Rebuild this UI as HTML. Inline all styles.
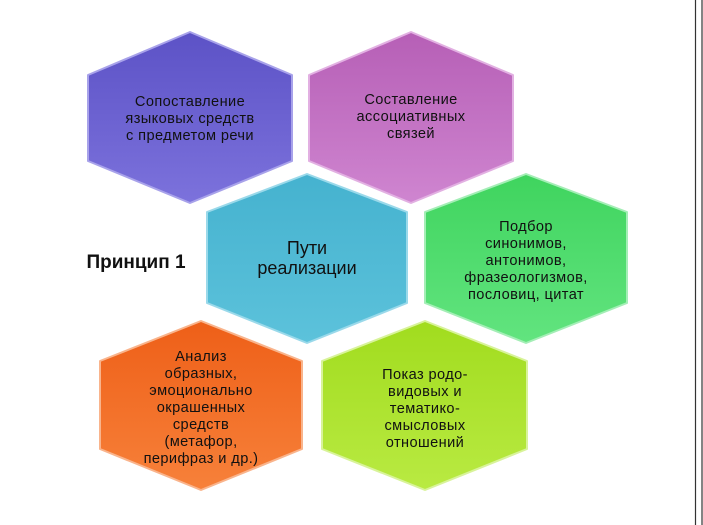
<!DOCTYPE html>
<html><head><meta charset="utf-8"><style>
html,body{margin:0;padding:0;background:#fff;}
svg{display:block;}
text{font-family:"Liberation Sans",sans-serif;fill:#111;text-anchor:middle;}
</style></head><body>
<svg width="703" height="525" viewBox="0 0 703 525" xmlns="http://www.w3.org/2000/svg">
<defs>
<linearGradient id="gp" x1="0" y1="0" x2="0" y2="1"><stop offset="0" stop-color="#5c52c6"/><stop offset="1" stop-color="#7c72dc"/></linearGradient>
<linearGradient id="gk" x1="0" y1="0" x2="0" y2="1"><stop offset="0" stop-color="#b65fb6"/><stop offset="1" stop-color="#cf85d0"/></linearGradient>
<linearGradient id="gc" x1="0" y1="0" x2="0" y2="1"><stop offset="0" stop-color="#45b2cf"/><stop offset="1" stop-color="#5cc2db"/></linearGradient>
<linearGradient id="gg" x1="0" y1="0" x2="0" y2="1"><stop offset="0" stop-color="#3fd45e"/><stop offset="1" stop-color="#62e47f"/></linearGradient>
<linearGradient id="go" x1="0" y1="0" x2="0" y2="1"><stop offset="0" stop-color="#ee5f18"/><stop offset="1" stop-color="#f7813a"/></linearGradient>
<linearGradient id="gl" x1="0" y1="0" x2="0" y2="1"><stop offset="0" stop-color="#a1dc1e"/><stop offset="1" stop-color="#b9ea42"/></linearGradient>
</defs>
<g stroke-width="2" stroke-linejoin="round">
<polygon points="190,32 292,75 292,161 190,203 88,161 88,75" fill="url(#gp)" stroke="#a8a2ea"/>
<polygon points="411,32 513,75 513,161 411,203 309,161 309,75" fill="url(#gk)" stroke="#e2b0e2"/>
<polygon points="307,174 407,212 407,303 307,343 207,303 207,212" fill="url(#gc)" stroke="#9ad9ea"/>
<polygon points="526,174 627,212 627,303 526,343 425,303 425,212" fill="url(#gg)" stroke="#a4eeb6"/>
<polygon points="201,321 302,361 302,449 201,490 100,449 100,361" fill="url(#go)" stroke="#f9b48c"/>
<polygon points="425,321 527,361 527,449 425,490 322,449 322,361" fill="url(#gl)" stroke="#d8f39a"/>
</g>
<g font-size="14.6" letter-spacing="0.4">
<text x="190" y="106">Сопоставление</text>
<text x="190" y="123">языковых средств</text>
<text x="190" y="140">с предметом речи</text>
<text x="411" y="104">Составление</text>
<text x="411" y="121">ассоциативных</text>
<text x="411" y="138">связей</text>
<text x="526" y="231">Подбор</text>
<text x="526" y="248">синонимов,</text>
<text x="526" y="265">антонимов,</text>
<text x="526" y="282">фразеологизмов,</text>
<text x="526" y="299">пословиц, цитат</text>
<text x="201" y="361">Анализ</text>
<text x="201" y="378">образных,</text>
<text x="201" y="395">эмоционально</text>
<text x="201" y="412">окрашенных</text>
<text x="201" y="429">средств</text>
<text x="201" y="446">(метафор,</text>
<text x="201" y="463">перифраз и др.)</text>
<text x="425" y="379">Показ родо-</text>
<text x="425" y="396">видовых и</text>
<text x="425" y="413">тематико-</text>
<text x="425" y="430">смысловых</text>
<text x="425" y="447">отношений</text>
</g>
<text x="307" y="254" font-size="18">Пути</text>
<text x="307" y="274" font-size="18">реализации</text>
<text x="136" y="268" font-size="19" font-weight="bold">Принцип 1</text>
<line x1="695.5" y1="0" x2="695.5" y2="525" stroke="#333" stroke-width="1.2"/>
<line x1="702" y1="0" x2="702" y2="525" stroke="#333" stroke-width="1.2"/>
</svg>
</body></html>
